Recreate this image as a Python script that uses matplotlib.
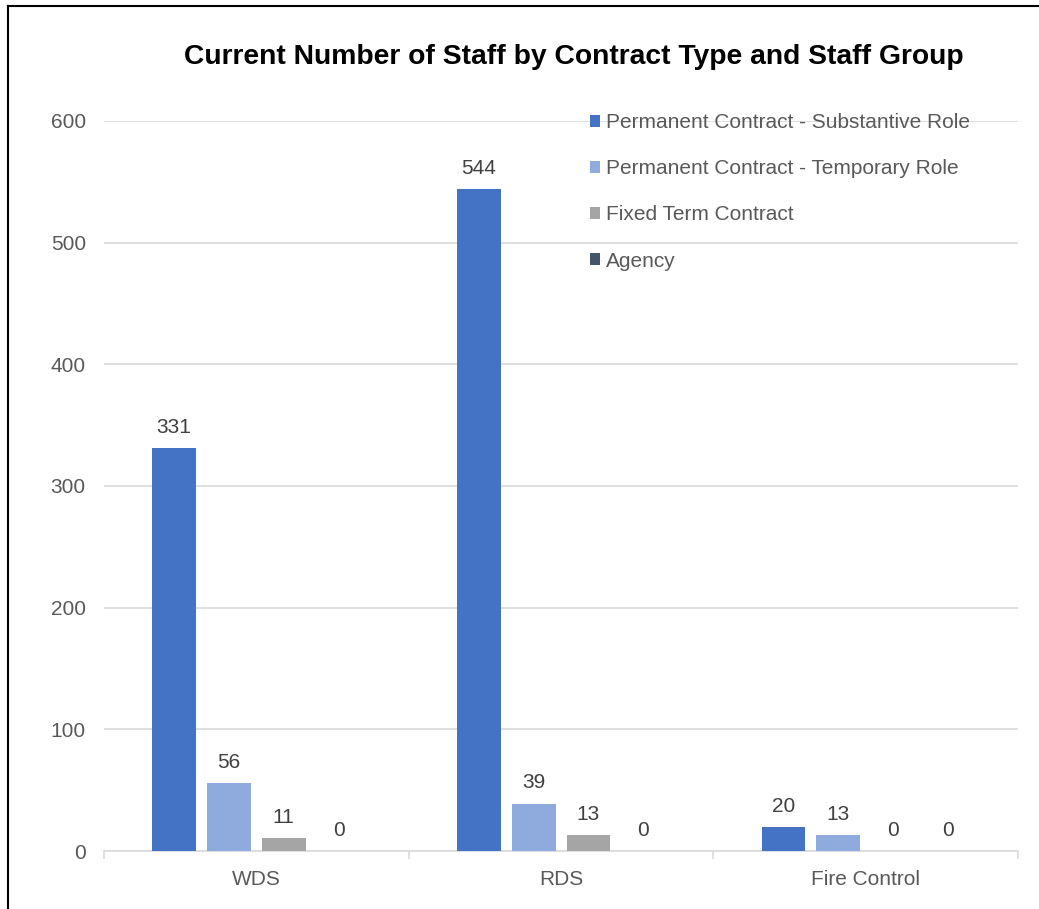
import matplotlib.pyplot as plt
import numpy as np

plt.rcParams['font.family'] = ['Liberation Sans', 'DejaVu Sans']

groups = ['WDS', 'RDS', 'Fire Control']
series = ['Permanent Contract - Substantive Role',
          'Permanent Contract - Temporary Role',
          'Fixed Term Contract',
          'Agency']
substantive = [331, 544, 20]
temporary = [56, 39, 13]
fixed_term = [11, 13, 0]
agency = [0, 0, 0]
colors = ['#4472C4', '#8FAADC', '#A5A5A5', '#44546A']

values = [substantive, temporary, fixed_term, agency]

fig = plt.figure(figsize=(10.39, 9.09), dpi=100)
ax = fig.add_axes([0.100, 0.0638, 0.880, 0.8031])

x = np.arange(len(groups))
step = 0.18
width = 0.144
for i, (vals, name, c) in enumerate(zip(values, series, colors)):
    pos = x + (i - 1.5) * step
    bars = ax.bar(pos, vals, width, color=c, label=name, zorder=3)
    for b, v in zip(bars, vals):
        ax.annotate(str(v), (b.get_x() + b.get_width() / 2, v),
                    xytext=(0, 8), textcoords='offset points',
                    ha='center', va='bottom', fontsize=15, color='#404040')

ax.set_xlim(-0.5, 2.5)
ax.set_ylim(0, 600)
ax.set_yticks(range(0, 601, 100))
ax.yaxis.grid(True, color='#D9D9D9', linewidth=1.2, zorder=0)
ax.set_axisbelow(True)
for s in ['top', 'right', 'left']:
    ax.spines[s].set_visible(False)
ax.spines['bottom'].set_color('#D9D9D9')
ax.spines['bottom'].set_linewidth(1.2)
ax.tick_params(axis='y', length=0, pad=13, labelsize=15, labelcolor='#595959')
ax.set_xticks(x)
ax.set_xticklabels(groups)
ax.tick_params(axis='x', length=0, pad=14, labelsize=15, labelcolor='#595959')
# small boundary ticks between categories
ax.set_xticks([-0.5, 0.5, 1.5, 2.5], minor=True)
ax.tick_params(axis='x', which='minor', length=6, color='#D9D9D9', width=1.2)

fig.text(0.552, 0.937, 'Current Number of Staff by Contract Type and Staff Group',
         ha='center', va='center', fontsize=20.3, fontweight='bold', color='black')

leg = ax.legend(loc='upper left', bbox_to_anchor=(0.522, 1.022), frameon=False,
                fontsize=15, handlelength=0.5, handleheight=0.5,
                handletextpad=0.3, labelspacing=1.3, borderaxespad=0)
for t in leg.get_texts():
    t.set_color('#595959')

# outer frame (left and top only visible in reference)
fig.add_artist(plt.Line2D([0.0079, 0.0079], [0.0, 0.9934], color='black',
                          linewidth=1.5, transform=fig.transFigure))
fig.add_artist(plt.Line2D([0.0079, 1.0], [0.9934, 0.9934], color='black',
                          linewidth=1.5, transform=fig.transFigure))

fig.savefig('out.png', dpi=100)
